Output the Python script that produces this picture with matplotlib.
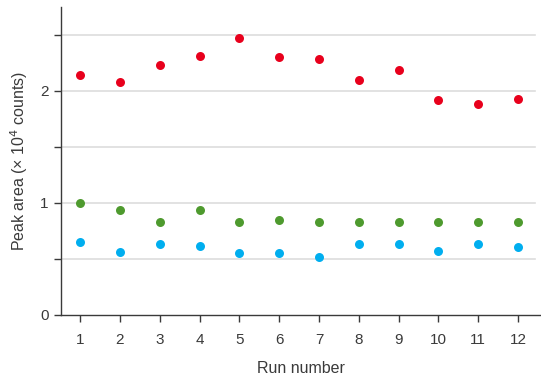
import matplotlib
matplotlib.use('Agg')
import matplotlib.pyplot as plt

plt.rcParams['font.family'] = ['Liberation Sans', 'DejaVu Sans']

# 数据（峰面积，× 10^4 counts）
runs = [1, 2, 3, 4, 5, 6, 7, 8, 9, 10, 11, 12]
red_vals = [2.14, 2.08, 2.23, 2.31, 2.47, 2.30, 2.29, 2.10, 2.19, 1.92, 1.88, 1.93]
green_vals = [1.00, 0.94, 0.83, 0.94, 0.83, 0.85, 0.83, 0.83, 0.83, 0.83, 0.83, 0.83]
blue_vals = [0.65, 0.56, 0.63, 0.62, 0.55, 0.55, 0.52, 0.63, 0.63, 0.57, 0.63, 0.61]

y_ticks = [0, 0.5, 1, 1.5, 2, 2.5]
y_ticklabels = ['0', '', '1', '', '2', '']

text_color = '#3a3a3a'

fig = plt.figure(figsize=(5.41, 3.85), dpi=100)
ax = fig.add_axes([61 / 541, 70 / 385, 479 / 541, 308 / 385])

# 网格线
for y in y_ticks[1:]:
    ax.axhline(y, xmin=0, xmax=0.99, color='#dddddd', linewidth=1.2, zorder=0)

ax.scatter(runs, red_vals, s=42, color='#e8001c', zorder=3, linewidths=0)
ax.scatter(runs, green_vals, s=42, color='#4e9a2e', zorder=3, linewidths=0)
ax.scatter(runs, blue_vals, s=42, color='#00aeef', zorder=3, linewidths=0)

ax.set_xlim(0.52, 12.55)
ax.set_ylim(0, 2.75)
ax.set_xticks(runs)
ax.set_xticklabels([str(r) for r in runs])
ax.set_yticks(y_ticks)
ax.set_yticklabels(y_ticklabels)

for side in ['top', 'right']:
    ax.spines[side].set_visible(False)
for side in ['left', 'bottom']:
    ax.spines[side].set_color(text_color)
    ax.spines[side].set_linewidth(1.0)

ax.tick_params(axis='both', direction='out', length=5, width=1.0,
               color=text_color, labelcolor=text_color, labelsize=11)
ax.tick_params(axis='x', pad=8)
ax.tick_params(axis='y', pad=4)

ax.set_xlabel('Run number', fontsize=11.5, color=text_color, labelpad=10)
ax.set_ylabel('Peak area (× 10$^4$ counts)', fontsize=11.5, color=text_color, labelpad=7)

fig.savefig('out.png', dpi=100)
plt.close(fig)
